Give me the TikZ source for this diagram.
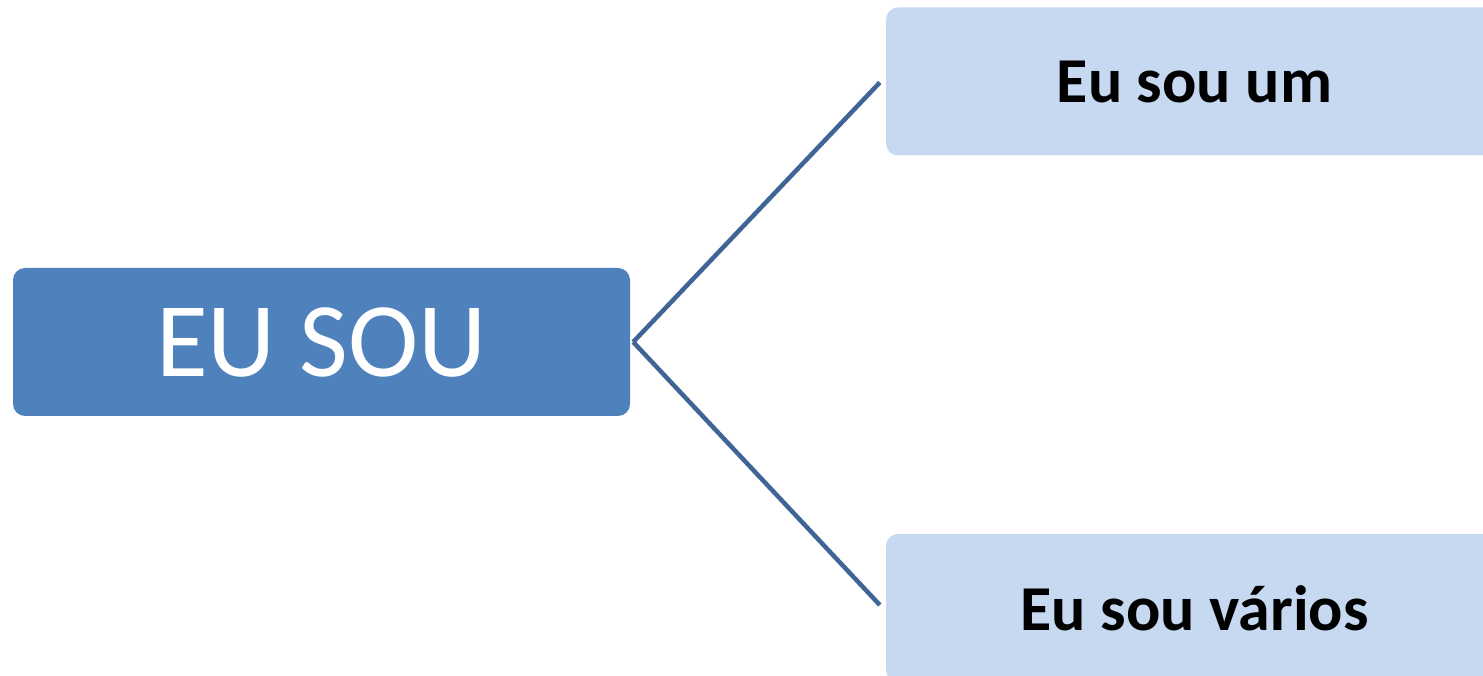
\documentclass[tikz,border=0pt]{standalone}
\usepackage{fontspec}
\setmainfont{Carlito}
\usepackage{tikz}
\definecolor{dark}{RGB}{79, 129, 189}
\definecolor{light}{RGB}{198, 217, 241}
\definecolor{edge}{RGB}{63, 101, 151}

\begin{document}
\begin{tikzpicture}[x=1pt, y=1pt,
  mainbox/.style={fill=dark, text=white, rounded corners=12pt, inner sep=0pt,
    minimum width=617pt, minimum height=148pt, font=\fontsize{106}{112}\selectfont},
  subbox/.style={fill=light, text=black, rounded corners=12pt, inner sep=0pt,
    minimum width=617pt, minimum height=148pt, font=\fontsize{64}{70}\selectfont\bfseries},
  branch/.style={draw=edge, line width=4.5pt}]

\useasboundingbox (0, 0) rectangle (1483, 675);

\node[mainbox] (eusou) at (321.5, 333) {EU SOU};

\node[subbox] (um) at (1194.5, 593.5) {Eu sou um};

\node[subbox] (varios) at (1194.5, 67) {Eu sou vários};

\draw[branch] ([xshift=3pt]eusou.east) -- ([xshift=-6pt, yshift=-1pt]um.west);
\draw[branch] ([xshift=3pt]eusou.east) -- ([xshift=-6pt, yshift=3pt]varios.west);

\end{tikzpicture}
\end{document}
